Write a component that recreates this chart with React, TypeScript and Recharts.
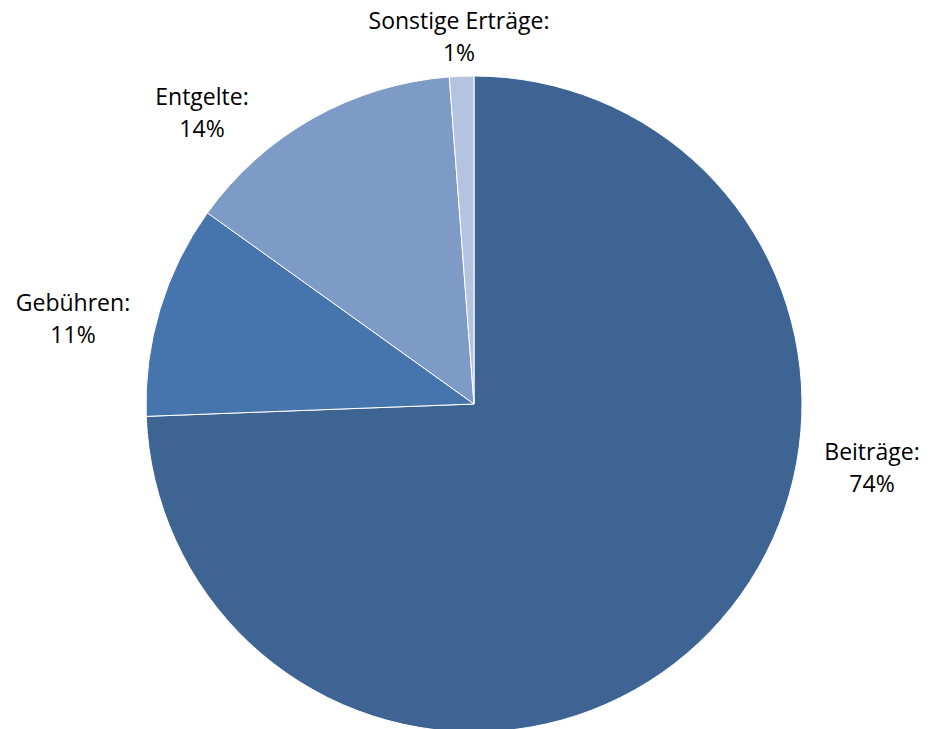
import React from "react";
import { PieChart, Pie, Cell } from "recharts";

const categories = ["Beiträge", "Gebühren", "Entgelte", "Sonstige Erträge"];
const values = [74.4, 10.5, 13.9, 1.2];
const percentLabels = ["74%", "11%", "14%", "1%"];
const colors = ["#3E6494", "#4674AC", "#7E9BC8", "#B3C3E0"];

const data = categories.map((name, i) => ({ name, value: values[i], pct: percentLabels[i] }));

// label anchor placements (x center, first baseline), Excel-like best fit
const LABEL_POS: [number, number][] = [
  [872, 460],
  [73, 311],
  [202, 105],
  [459, 29],
];

const renderLabel = (props: any) => {
  const { index } = props;
  const [x, y] = LABEL_POS[index];
  return (
    <text
      x={x}
      y={y}
      textAnchor="middle"
      fill="#000"
      style={{ fontFamily: "'Open Sans', sans-serif", fontSize: 23 }}
    >
      <tspan x={x} y={y}>{data[index].name}:</tspan>
      <tspan x={x} y={y + 32}>{data[index].pct}</tspan>
    </text>
  );
};

export default function App() {
  return (
    <div style={{ margin: "-8px 0 0 -8px", width: 936, height: 729, background: "#fff" }}>
      <PieChart width={936} height={729} margin={{ top: 0, right: 0, bottom: 0, left: 0 }}>
        <Pie
          data={data}
          dataKey="value"
          nameKey="name"
          cx={474}
          cy={404}
          outerRadius={328}
          startAngle={90}
          endAngle={-270}
          stroke="#ffffff"
          strokeWidth={1}
          label={renderLabel}
          labelLine={false}
          isAnimationActive={false}
        >
          {data.map((d, i) => (
            <Cell key={d.name} fill={colors[i]} />
          ))}
        </Pie>
      </PieChart>
    </div>
  );
}
